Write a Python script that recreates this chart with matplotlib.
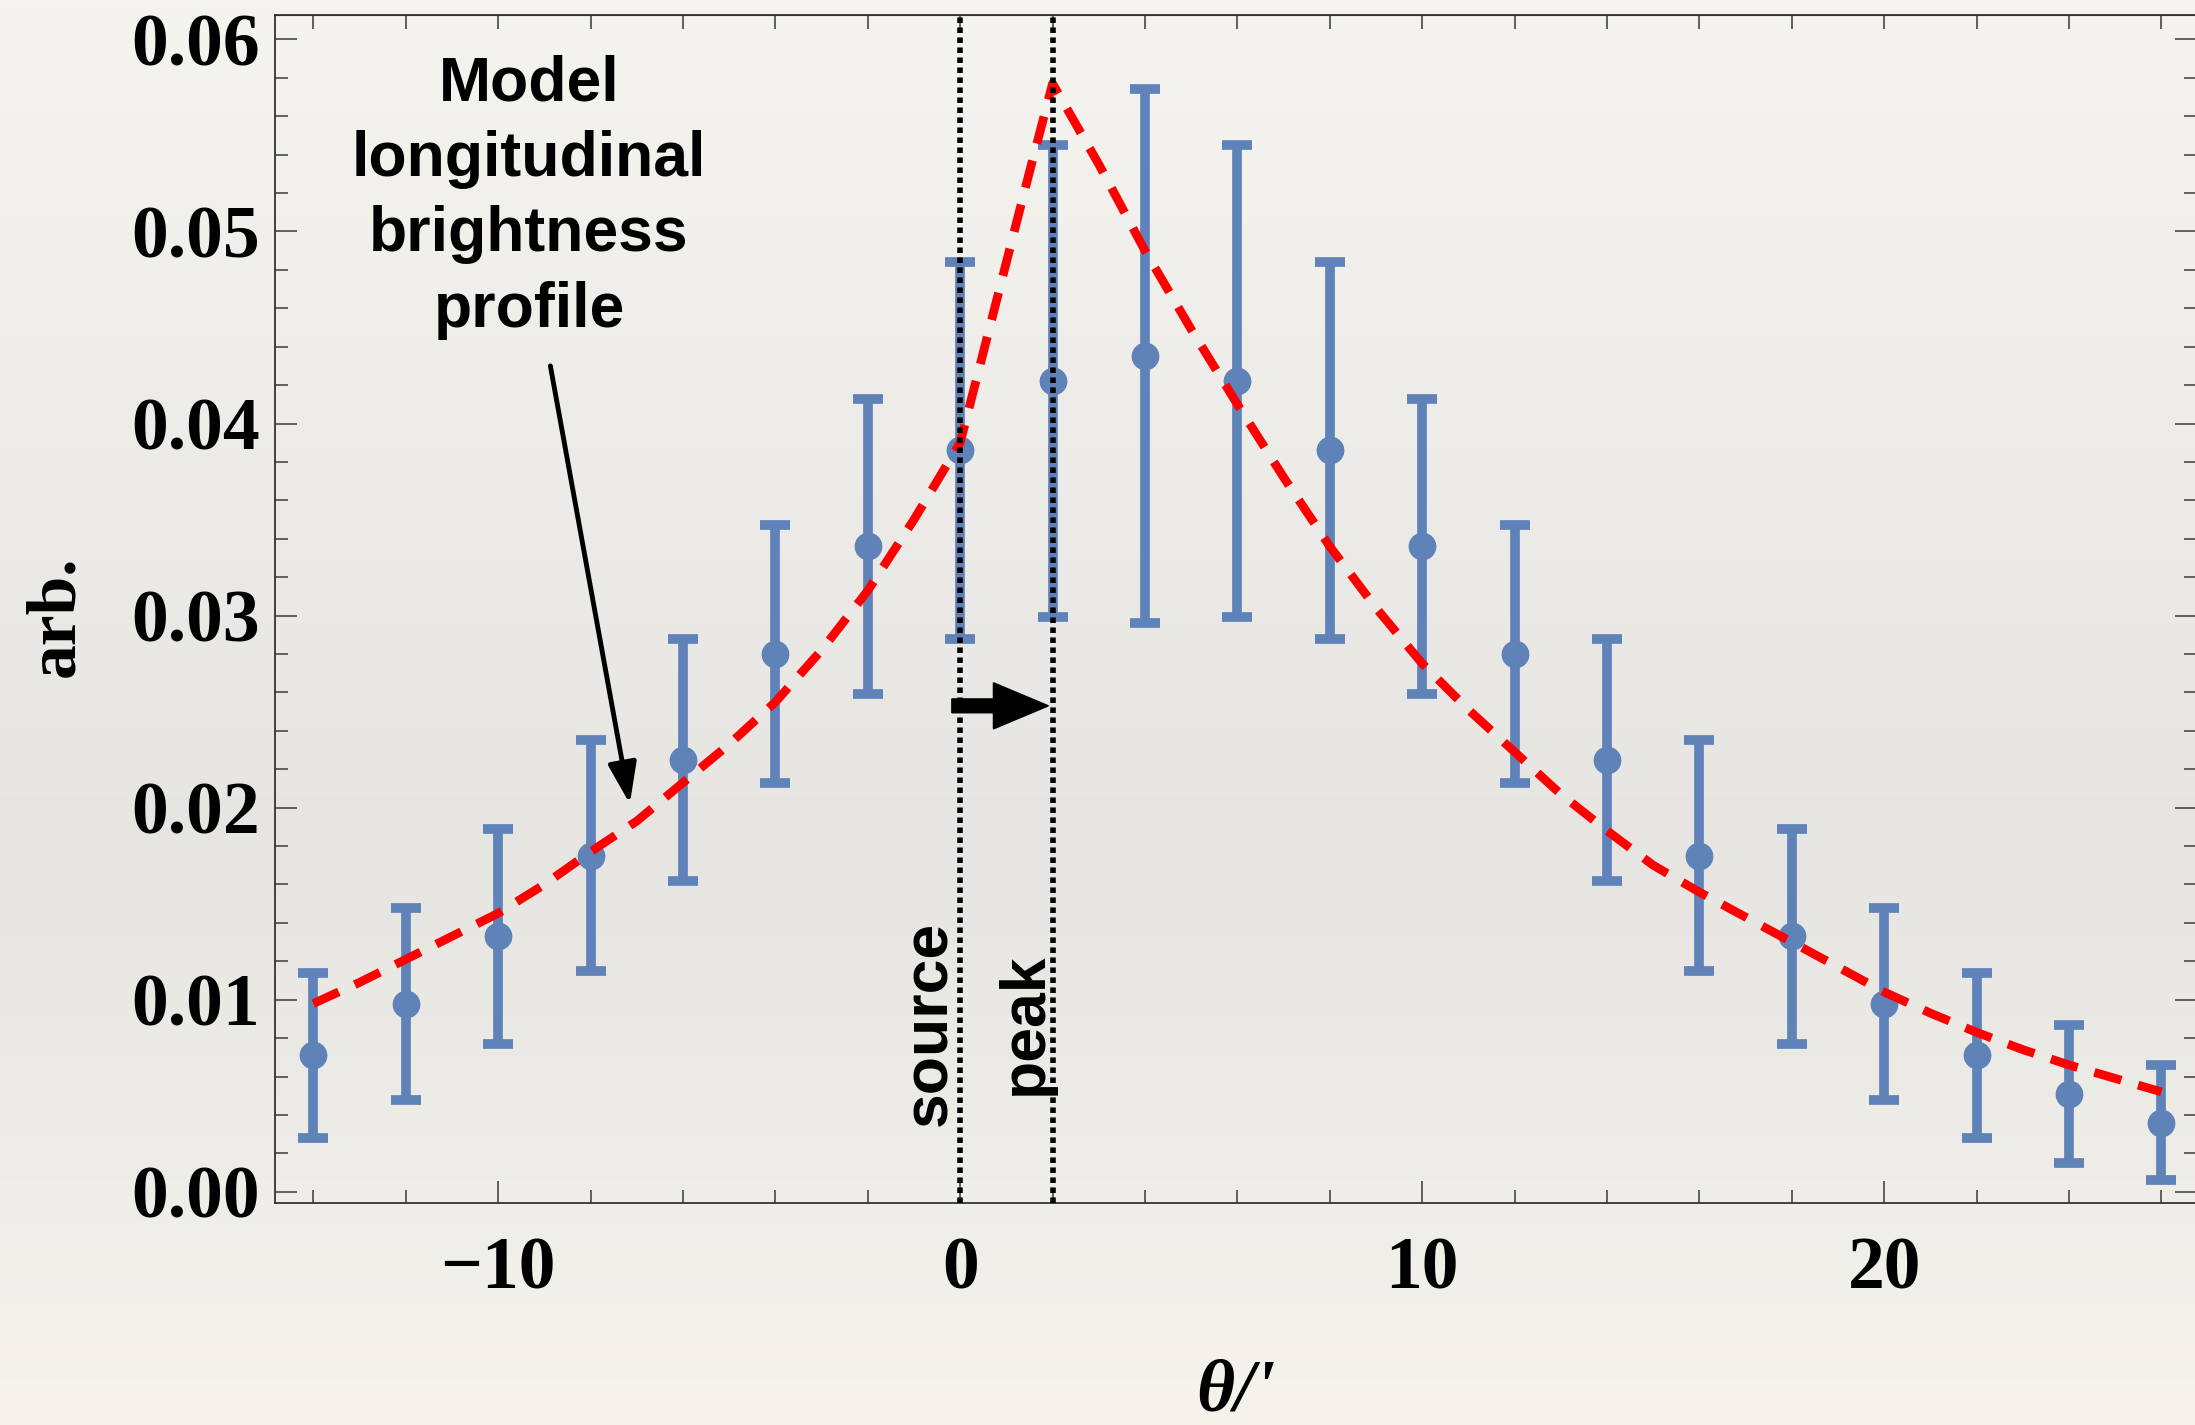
import numpy as np
import matplotlib.pyplot as plt
from matplotlib.ticker import MultipleLocator, FixedLocator, FormatStrFormatter
from matplotlib.colors import to_rgb

# measured profile (points with error bars)
theta = [-14, -12, -10, -8, -6, -4, -2, 0, 2, 4, 6, 8, 10, 12, 14, 16, 18, 20, 22, 24, 26]
values = [0.0071, 0.0098, 0.0133, 0.0175, 0.0225, 0.0280, 0.0336, 0.0386, 0.0422, 0.0435, 0.0422,
          0.0386, 0.0336, 0.0280, 0.0225, 0.0175, 0.0133, 0.0098, 0.0071, 0.0051, 0.0036]
errors = [0.0043, 0.0050, 0.0056, 0.0060, 0.0063, 0.0067, 0.0077, 0.0098, 0.0123, 0.0139, 0.0123,
          0.0098, 0.0077, 0.0067, 0.0063, 0.0060, 0.0056, 0.0050, 0.0043, 0.0036, 0.0030]

# model longitudinal brightness profile (red dashed)
model_theta = [-14, -13, -12, -11, -10, -9, -8, -7, -6, -5, -4, -3, -2, -1, 0, 0.5, 1, 1.5, 2,
               3, 4, 5, 6, 7, 8, 9, 10, 11, 12, 13, 14, 15, 16, 17, 18, 19, 20, 21, 22, 23, 24, 25, 26]
model_vals = [0.0098, 0.0109, 0.0121, 0.0133, 0.0145, 0.0160, 0.0177, 0.0193, 0.0213, 0.0233,
              0.0255, 0.0282, 0.0313, 0.0350, 0.0390, 0.0437, 0.0484, 0.0531, 0.0577,
              0.0535, 0.0490, 0.0449, 0.0410, 0.0372, 0.0336, 0.0304, 0.0275, 0.0251, 0.0229,
              0.0207, 0.0188, 0.0170, 0.0156, 0.0143, 0.0130, 0.0117, 0.0104, 0.0093, 0.0083,
              0.0074, 0.0066, 0.0059, 0.0052]

source_pos = 0
peak_pos = 2

serif = 'Liberation Serif'
sans = 'Liberation Sans'
blue = '#5F83B9'

fig = plt.figure(figsize=(21.95, 14.25), dpi=100)

# paper-like background gradient
bg = fig.add_axes([0, 0, 1, 1], zorder=-10)
bg.axis('off')
stops = [0, 0.35, 0.6, 1]
cols = np.array([to_rgb(c) for c in ['#F6F4EF', '#EDEBE7', '#E7E5E1', '#F5F3EC']])
rows = np.linspace(0, 1, 256)
img = np.stack([np.interp(rows, stops, cols[:, k]) for k in range(3)], axis=1)[:, None, :]
bg.imshow(img, aspect='auto', extent=[0, 1, 0, 1])

ax = fig.add_axes([275 / 2195, 222.3 / 1425, (2197 - 275) / 2195, (1202.7 - 15) / 1425])
ax.set_facecolor('none')

ax.errorbar(theta, values, yerr=errors, fmt='o', color=blue, ms=19, elinewidth=7,
            capsize=11, capthick=7, zorder=2)
ax.plot(model_theta, model_vals, color='red', lw=6.3, dashes=(3.2, 2.0),
        dash_capstyle='butt', zorder=3)

for xv in (source_pos, peak_pos):
    ax.axvline(xv, color='black', lw=4, dashes=(1.0, 0.8), zorder=4)

ax.arrow(-0.18, 0.0253, 2.09, 0, width=0.00072, head_width=0.00240, head_length=1.19,
         length_includes_head=True, color='black', zorder=5)

ax.text(-0.29, 0.00877, 'source', rotation=90, rotation_mode='anchor', ha='center',
        va='baseline', fontsize=45, fontweight='bold', family=sans)
ax.text(1.77, 0.00877, 'peak', rotation=90, rotation_mode='anchor', ha='center',
        va='baseline', fontsize=45, fontweight='bold', family=sans)

ax.text(-9.33, 0.0518, 'Model\nlongitudinal\nbrightness\nprofile', ha='center', va='center',
        multialignment='center', fontsize=45, fontweight='bold', family=sans, linespacing=1.36)
ax.annotate('', xy=(-7.15, 0.0202), xytext=(-8.87, 0.0430),
            arrowprops=dict(arrowstyle='-|>,head_length=1.0,head_width=0.35', color='black',
                            lw=3.5, mutation_scale=25, shrinkA=0, shrinkB=0))

ax.set_xlim(-14.83, 26.77)
ax.set_ylim(-0.00057, 0.06127)

ax.xaxis.set_major_locator(FixedLocator([-10, 0, 10, 20]))
ax.xaxis.set_minor_locator(MultipleLocator(2))
ax.yaxis.set_major_locator(MultipleLocator(0.01))
ax.yaxis.set_minor_locator(MultipleLocator(0.002))
ax.yaxis.set_major_formatter(FormatStrFormatter('%.2f'))

ax.tick_params(which='both', direction='in', color='#555555', width=1.3,
               left=True, right=True, bottom=True, top=False)
ax.tick_params(which='major', length=16)
ax.tick_params(which='minor', length=9.5)
ax.tick_params(axis='x', which='major', pad=24)
ax.tick_params(axis='y', which='major', pad=11)

for lab in ax.get_xticklabels() + ax.get_yticklabels():
    lab.set_family(serif)
    lab.set_fontweight('bold')
    lab.set_fontsize(53)

secax = ax.secondary_xaxis('top')
secax.set_xticks(np.arange(-14, 27, 2))
secax.tick_params(direction='in', length=10, width=1.3, color='#555555', labeltop=False)
secax.spines['top'].set_color('#333333')

for sp in ax.spines.values():
    sp.set_color('#333333')
    sp.set_linewidth(1.3)

ax.set_ylabel('arb.', family=serif, fontweight='bold', fontsize=50, va='center')
ax.yaxis.set_label_coords(-0.114, 0.494)
ax.set_xlabel("θ/'", family=serif, fontweight='bold', style='italic', fontsize=53, va='center')
ax.xaxis.set_label_coords(0.5, -0.160)

fig.savefig('out.png', dpi=100)
